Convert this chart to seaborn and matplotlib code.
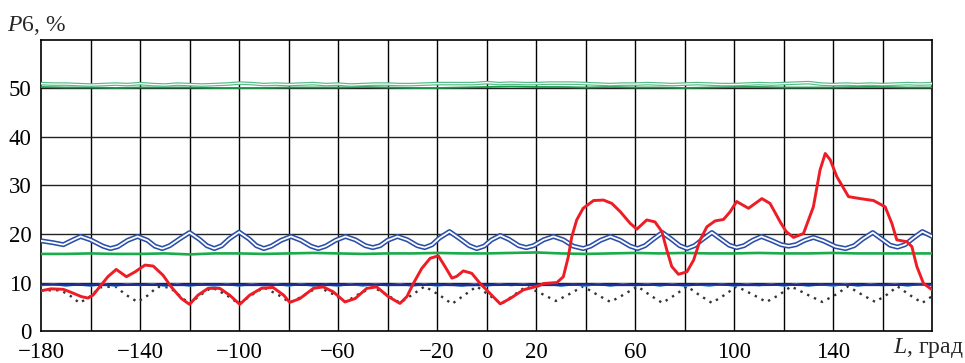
import numpy as np
import pandas as pd
import matplotlib
matplotlib.use("Agg")
import matplotlib.pyplot as plt
import seaborn as sns

# ---------------- data ----------------
x_ticks = [-180, -140, -100, -60, -20, 0, 20, 60, 100, 140]
y_ticks = [0, 10, 20, 30, 40, 50]

red_L = [-180, -176, -171, -168.4, -163.7, -161, -159, -156.3, -153, -149.6, -145.5, -142, -138, -134.7,
         -130.7, -127.4, -123.3, -120, -116.6, -112.5, -107.8, -103.8, -99.7, -95.7, -91, -86.3, -82,
         -79.5, -75.4, -70, -66, -62, -57.2, -53.1, -48.4, -44.4, -39.7, -35, -32.2, -29.6, -26.2, -22.8,
         -19.5, -16.8, -14, -12, -9.4, -6, -2.6, 0.7, 5.5, 9.5, 14.9, 21, 23, 28.4, 31, 33, 34.4, 36.4,
         39, 43.2, 47.2, 50.6, 54, 58, 60.7, 64.7, 68, 70.8, 72.8, 74.8, 77.5, 80.9, 83.6, 86.3, 89,
         92.3, 95.7, 98.4, 101, 105.8, 111.2, 114.5, 118.6, 121, 124, 128, 132, 134.7, 136.8, 138.8,
         141.5, 146.2, 150.9, 156.3, 161, 163.7, 165.7, 169.8, 171.8, 173.8, 176.5, 180]
red_P = [8.3, 8.7, 8.6, 8.1, 7.1, 6.8, 7.4, 9.1, 11.2, 12.7, 11.2, 12.2, 13.6, 13.4,
         11.5, 9.1, 6.7, 5.5, 7.4, 8.8, 8.8, 7.4, 5.5, 7.4, 8.8, 9.0, 7.4,
         5.9, 6.7, 8.8, 9.1, 8.1, 6.0, 6.7, 8.8, 9.1, 7.1, 5.7, 7.1, 9.8, 12.9, 15.0,
         15.5, 13.3, 10.9, 11.3, 12.4, 11.9, 9.8, 8.1, 5.6, 6.7, 8.5, 9.3, 9.8, 10.0, 11.2, 15.3, 19.4, 22.9,
         25.3, 26.9, 27.0, 26.3, 24.6, 22.2, 21.0, 22.9, 22.5, 20.5, 16.7, 13.3, 11.7, 12.2, 14.6, 18.8, 21.5,
         22.7, 23.0, 24.6, 26.7, 25.3, 27.3, 26.3, 22.5, 20.5, 19.3, 20.1, 25.6, 33.2, 36.6, 35.3,
         31.8, 27.7, 27.3, 26.9, 25.6, 22.2, 18.8, 18.4, 17.4, 13.3, 9.8, 8.5]

blue_L = [-180, -175, -171, -167, -164, -160, -155, -152, -149, -145, -141, -137, -134, -131, -128, -124,
          -120, -116, -113, -110, -107, -104, -100, -96, -93, -90, -87, -83, -79, -75, -71, -68, -65, -61,
          -57, -53, -49, -46, -43, -40, -36, -32, -28, -25, -22, -19, -15, -11, -7, -4, -1, 2, 5.5, 9, 13,
          16, 19, 23, 27, 31, 35, 39, 42, 46, 50, 54, 58, 61, 64, 67.5, 71, 74.5, 78, 81, 84, 87.5, 91,
          94.5, 98, 101, 104, 107.5, 111, 115, 119, 122, 125, 128.5, 132, 136, 141, 145, 148.5, 152, 156,
          159.5, 163, 166, 169, 172.5, 176, 180]
blue_P = [18.6, 18.2, 17.8, 18.8, 19.5, 18.8, 17.5, 17.0, 17.4, 18.7, 19.5, 18.7, 17.5, 17.0, 17.6, 19.0,
          20.3, 18.9, 17.6, 17.0, 17.6, 19.0, 20.4, 19.0, 17.6, 17.0, 17.5, 18.7, 19.5, 18.7, 17.5, 17.0, 17.5, 18.7,
          19.5, 18.8, 17.6, 17.2, 17.6, 18.7, 19.5, 18.8, 17.6, 17.2, 17.8, 19.2, 20.5, 19.1, 17.6, 17.0, 17.5, 18.8, 19.7, 18.9, 17.6,
          17.2, 17.6, 18.8, 19.5, 18.8, 17.5, 17.0, 17.5, 18.7, 19.5, 18.7, 17.5, 17.0, 17.6, 19.0, 20.3, 19.0, 17.6, 17.0, 17.6, 19.0, 20.3,
          19.0, 17.7, 17.2, 17.6, 18.7, 19.5, 18.7, 17.8, 17.5, 17.8, 18.7, 19.3, 18.6, 17.4, 17.0, 17.6, 19.0, 20.3,
          19.0, 17.7, 17.3, 17.8, 19.2, 20.5, 19.5]

dot_L = [-180, -172, -168, -164.5, -161, -156, -150, -145.5, -141, -137, -133, -128, -124, -120, -116, -111,
         -105, -100, -95, -90, -84, -79.5, -75, -68, -62, -57, -52, -46, -40, -35, -30, -25, -19, -14, -9,
         -4, 1, 6, 11, 16, 23, 28, 33, 39, 45, 50, 55, 61, 66, 71, 76, 81, 86, 91, 96, 101, 108, 113,
         118, 123, 130, 135.6, 141, 146, 152, 157, 162, 166, 171, 176, 180]
dot_P = [8.4, 8.4, 7.2, 5.8, 6.8, 9.0, 9.2, 7.4, 6.0, 7.3, 9.1, 9.0, 7.3, 5.6, 7.3, 9.0,
         7.4, 5.6, 7.4, 9.0, 7.4, 5.9, 7.0, 9.1, 7.6, 6.0, 7.5, 9.1, 7.4, 5.8, 7.5, 9.2, 7.4, 5.6, 7.4,
         9.2, 7.4, 5.6, 7.4, 9.2, 7.5, 6.2, 7.5, 9.2, 7.4, 6.0, 7.4, 9.2, 7.4, 5.8, 7.4, 9.2, 7.4, 5.8, 7.4, 9.2, 7.4, 6.0,
         7.4, 9.2, 7.4, 6.0, 7.5, 9.2, 7.4, 6.0, 7.6, 9.2, 7.4, 5.8, 7.2]

# sampled every 10 degrees from -180 to 180
navy_P = [9.6, 9.55, 9.5, 9.5, 9.55, 9.5, 9.5, 9.6, 9.5, 9.5, 9.55, 9.5, 9.5, 9.6, 9.5, 9.5, 9.55, 9.45, 9.5,
          9.55, 9.5, 9.5, 9.6, 9.5, 9.5, 9.55, 9.5, 9.6, 9.5, 9.5, 9.55, 9.5, 9.6, 9.5, 9.5, 9.55, 9.6]
green16_P = [15.9, 15.9, 16.0, 15.9, 15.9, 16.0, 15.8, 16.0, 16.0, 15.9, 16.0, 16.1, 16.0, 15.9, 16.0, 16.0, 16.1,
             16.0, 16.0, 16.1, 16.2, 16.0, 15.9, 16.0, 16.1, 16.0, 16.1, 16.0, 16.0, 16.1, 16.0, 16.0, 16.1, 16.0,
             16.0, 16.0, 16.0]
green50_P = [50.3, 50.2, 50.2, 50.1, 50.2, 50.2, 50.2, 50.1, 50.1, 50.1, 50.2, 50.2, 50.2, 50.3, 50.2, 50.1, 50.1,
             50.2, 50.3, 50.4, 50.3, 50.3, 50.2, 50.3, 50.2, 50.2, 50.1, 50.2, 50.3, 50.3, 50.2, 50.2, 50.2, 50.3,
             50.3, 50.2, 50.2]
# sampled every 5 degrees from -180 to 180
lgreen_P = [51.0, 50.9, 50.9, 50.8, 50.7, 50.8, 50.9, 50.8, 51.0, 50.8, 50.7, 50.9, 50.8, 50.7, 50.8, 50.9, 51.1,
            51.0, 50.8, 50.9, 50.8, 50.9, 51.0, 50.8, 50.9, 50.7, 50.8, 50.9, 50.9, 50.8, 50.8, 50.9, 51.0, 51.0,
            51.0, 51.0, 51.2, 51.0, 51.1, 51.0, 51.0, 51.1, 51.1, 51.1, 51.0, 50.9, 50.8, 50.9, 50.9, 51.0, 50.9,
            50.8, 50.9, 51.0, 50.9, 50.8, 50.8, 50.9, 51.0, 50.9, 51.0, 51.1, 51.2, 50.9, 50.8, 50.9, 50.8, 50.9,
            50.8, 50.9, 51.0, 50.9, 51.0]
lblue_P = [9.4, 9.7, 9.3, 9.6, 9.3, 9.7, 9.3, 9.7, 9.4, 9.7, 9.3, 9.7, 9.3, 9.6, 9.3, 9.7, 9.3, 9.7, 9.4, 9.7,
           9.3, 9.7, 9.3, 9.6, 9.3, 9.7, 9.3, 9.7, 9.4, 9.7, 9.3, 9.7, 9.3, 9.6, 9.3, 9.7, 9.3, 9.7, 9.4, 9.7,
           9.3, 9.7, 9.3, 9.6, 9.3, 9.7, 9.3, 9.7, 9.4, 9.7, 9.3, 9.7, 9.3, 9.6, 9.3, 9.7, 9.3, 9.7, 9.4, 9.7,
           9.3, 9.7, 9.3, 9.6, 9.3, 9.7, 9.3, 9.7, 9.4, 9.7, 9.3, 9.7, 9.4]

def grid_x(vals):
    return np.linspace(-180, 180, len(vals))

# ---------------- style ----------------
sns.set_theme(style="white")
plt.rcParams["font.family"] = ["Liberation Serif", "DejaVu Serif"]
plt.rcParams["mathtext.fontset"] = "custom"
plt.rcParams["mathtext.rm"] = "Liberation Serif"
plt.rcParams["mathtext.it"] = "Liberation Serif:italic"
plt.rcParams["axes.unicode_minus"] = True

fig = plt.figure(figsize=(9.65, 3.63), dpi=100)
ax = fig.add_axes([0.0425, 0.088, 0.9235, 0.802])

for v in range(-160, 180, 20):
    ax.axvline(v, color="black", lw=1.0, zorder=1)
for v in range(10, 60, 10):
    ax.axhline(v, color="#222222", lw=1.0, zorder=1)

def line(x, y, **kw):
    sns.lineplot(x=list(x), y=list(y), ax=ax, sort=False, estimator=None, legend=False, **kw)

# top green band
line(grid_x(green50_P), green50_P, color="#1a9a4a", lw=1.3, zorder=3)
line(grid_x(lgreen_P), lgreen_P, color="#55bb88", lw=2.6, zorder=3)
line(grid_x(lgreen_P), lgreen_P, color="white", lw=0.9, zorder=3)

# blue double line
line(blue_L, blue_P, color="#2a4fa8", lw=3.6, zorder=4)
line(blue_L, blue_P, color="white", lw=1.3, zorder=4)

# green ~16
line(grid_x(green16_P), green16_P, color="#1aab4b", lw=1.9, zorder=3)

# dotted
line(dot_L, dot_P, color="#333333", lw=1.7, linestyle=(0, (1, 2.2)), zorder=3)

# ~9.5 lines
line(grid_x(lblue_P), lblue_P, color="#3a8fd8", lw=1.4, zorder=4)
line(grid_x(navy_P), navy_P, color="#1f2f8f", lw=1.7, zorder=4)

# red
line(red_L, red_P, color="#ee1c25", lw=2.1, zorder=5)

ax.set_xlim(-180, 180)
ax.set_ylim(0, 60)
ax.set_xticks(x_ticks)
ax.set_xticklabels([str(t).replace("-", "\u2212") for t in x_ticks])
ax.set_yticks(y_ticks)
ax.set_yticklabels([str(t) for t in y_ticks])
ax.tick_params(axis="both", length=0, labelsize=16.5, colors="black")
ax.tick_params(axis="x", pad=8)
ax.tick_params(axis="y", pad=7)
ax.set_xlabel("")
ax.set_ylabel("")
for s in ax.spines.values():
    s.set_color("black")
    s.set_linewidth(1.2)
    s.set_visible(True)

fig.text(0.007, 0.93, "$P$6, %", fontsize=17, ha="left", va="center")
fig.text(0.999, 0.04, "$L$, град", fontsize=17, ha="right", va="center")

fig.savefig("out.png", dpi=100)
